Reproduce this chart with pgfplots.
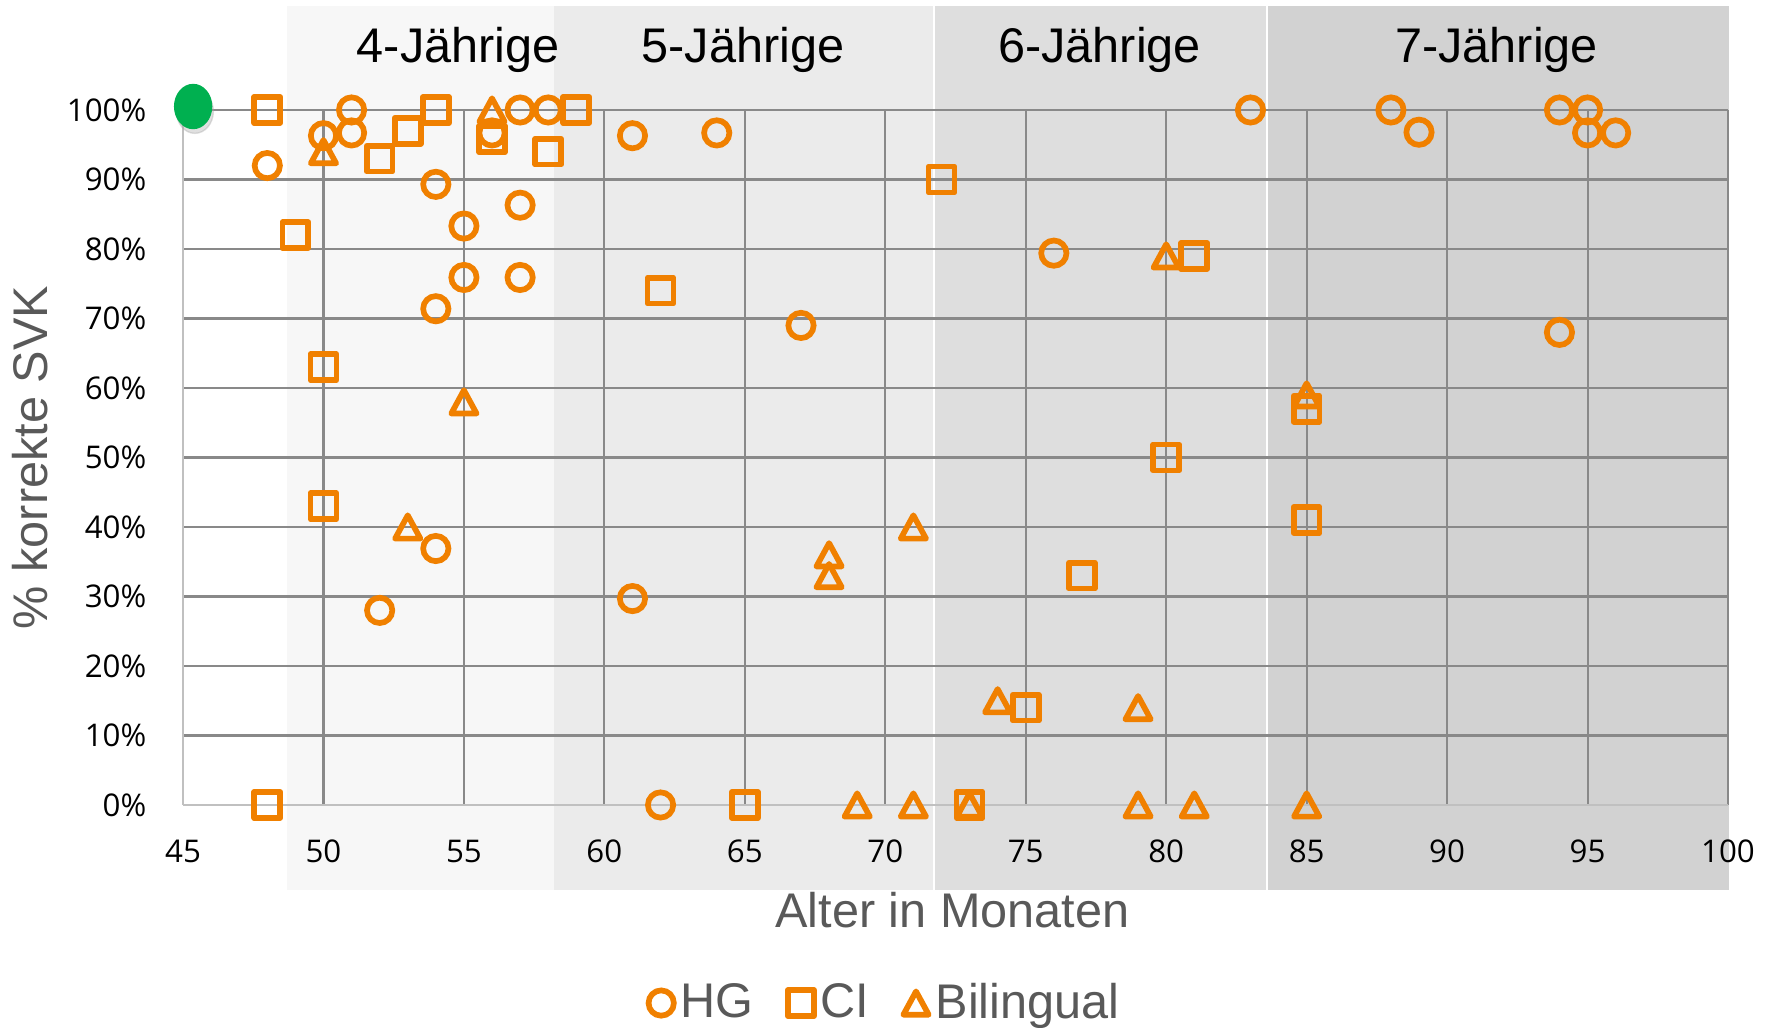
\documentclass[border=0pt]{standalone}
\usepackage{fontspec}
\setmainfont{Liberation Sans}
\newfontfamily\tickfont{Open Sans}
\usepackage{pgfplots}
\pgfplotsset{compat=1.18}
\definecolor{mkOrange}{RGB}{240,128,0}
\definecolor{dotGreen}{RGB}{0,176,80}
\definecolor{labelGrey}{RGB}{89,89,89}
\definecolor{gridGrey}{RGB}{137,137,137}
\definecolor{axisGrey}{RGB}{192,192,192}
\definecolor{bandFour}{RGB}{247,247,247}
\definecolor{bandFive}{RGB}{235,235,235}
\definecolor{bandSix}{RGB}{222,222,222}
\definecolor{bandSeven}{RGB}{210,210,210}

% Excel-like triangle, centred on its box
\pgfdeclareplotmark{xltri}{%
  \pgfpathmoveto{\pgfqpoint{0pt}{3.35pt}}%
  \pgfpathlineto{\pgfqpoint{3.64pt}{-3.35pt}}%
  \pgfpathlineto{\pgfqpoint{-3.64pt}{-3.35pt}}%
  \pgfpathclose
  \pgfusepathqstroke}

\begin{document}
\begin{tikzpicture}
\begin{axis}[
    set layers,
    clip=false,
    scale only axis,
    width=444.64pt, height=200.01pt,
    xmin=45, xmax=100, ymin=0, ymax=100,
    xtick={45,50,...,100},
    ytick={0,10,...,100},
    yticklabels={0\%,10\%,20\%,30\%,40\%,50\%,60\%,70\%,80\%,90\%,100\%},
    /pgf/number format/assume math mode=true,
    ticklabel style={font=\tickfont\fontsize{9}{11}\selectfont, text=black},
    xticklabel style={anchor=base, yshift=-16.7pt},
    yticklabel style={anchor=east, inner sep=0pt, xshift=-10.36pt},
    major tick length=0pt,
    xmajorgrids, ymajorgrids,
    grid style={draw=gridGrey, line width=0.6pt},
    axis x line*=bottom, axis y line*=left,
    axis line style={draw=axisGrey, line width=0.6pt, -},
    xlabel={Alter in Monaten},
    ylabel={\% korrekte SVK},
    label style={font=\fontsize{14}{16}\selectfont, text=labelGrey},
    xlabel style={at={(axis description cs:0.498,-0.177)}, anchor=base},
    ylabel style={at={(axis description cs:-0.0874,0.5)}, anchor=base},
    legend columns=3,
    legend style={at={(0.456,-0.285)}, anchor=center, draw=none, fill=none,
        font=\fontsize{14}{16}\selectfont, text=labelGrey,
        /tikz/every even column/.append style={column sep=7.8pt}},
    legend image code/.code={\draw[mark repeat=2,mark phase=2,#1]
        plot coordinates {(0cm,0cm) (0.17cm,0cm) (0.375cm,0cm)};},
]
\begin{pgfonlayer}{axis background}
\fill[bandFour]  (axis cs:48.7,-12.23) rectangle (axis cs:58.2,114.96);
\fill[bandFive]  (axis cs:58.2,-12.23) rectangle (axis cs:71.75,114.96);
\fill[bandSix]   (axis cs:71.75,-12.23) rectangle (axis cs:83.6,114.96);
\fill[bandSeven] (axis cs:83.6,-12.23) rectangle (axis cs:100.05,114.96);
\draw[white, line width=0.6pt] (axis cs:71.75,-12.23) -- (axis cs:71.75,114.96);
\draw[white, line width=0.6pt] (axis cs:83.6,-12.23) -- (axis cs:83.6,114.96);
\end{pgfonlayer}

\node[anchor=base, font=\fontsize{14}{16}\selectfont] at (axis cs:54.8,106.8) {4-Jährige};
\node[anchor=base, font=\fontsize{14}{16}\selectfont] at (axis cs:64.93,106.8) {5-Jährige};
\node[anchor=base, font=\fontsize{14}{16}\selectfont] at (axis cs:77.63,106.8) {6-Jährige};
\node[anchor=base, font=\fontsize{14}{16}\selectfont] at (axis cs:91.76,106.8) {7-Jährige};

% HG
\addplot[only marks, mark=o, mark size=3.64pt,
    mark options={draw=mkOrange, line width=1.64pt}] coordinates {
    (48,92) (50,96.3) (51,100) (51,96.7) (52,28) (54,89.3) (54,71.4)
    (54,36.9) (55,83.3) (55,75.9) (56,96.7) (57,100) (57,86.3) (57,75.9)
    (58,100) (61,96.3) (61,29.7) (62,0) (64,96.7) (67,69) (76,79.4)
    (83,100) (88,100) (89,96.8) (94,100) (94,68) (95,100) (95,96.7) (96,96.7)
};
\addlegendentry{HG}
% CI
\addplot[only marks, mark=square, mark size=3.73pt,
    mark options={draw=mkOrange, line width=1.64pt, line join=round}] coordinates {
    (48,100) (48,0) (49,82) (50,63) (50,43) (52,93) (53,97) (54,100)
    (56,95.8) (58,94) (59,100) (62,74) (65,0) (72,90) (73,0) (75,14)
    (77,33) (80,50) (81,79) (85,57) (85,41)
};
\addlegendentry{CI}
% Bilingual
\addplot[only marks, mark=xltri,
    mark options={draw=mkOrange, line width=1.64pt, line join=round}] coordinates {
    (50,94) (53,40) (55,58) (56,100) (68,36) (68,33) (69,0) (71,40) (71,0)
    (73,0) (74,15) (79,14) (79,0) (80,79) (81,0) (85,59) (85,0)
};
\addlegendentry{Bilingual}
% green dot with soft shadow
\addplot[only marks, mark=*, mark size=6.33pt, forget plot, color=gray!70,
    mark options={xscale=0.84, draw=gray!70, fill=gray!70, opacity=0.35,
    xshift=0.6pt, yshift=-1.4pt}] coordinates {(45.36,100.5)};
\addplot[only marks, mark=*, mark size=6.33pt, forget plot, color=dotGreen,
    mark options={xscale=0.84, draw=dotGreen, fill=dotGreen}] coordinates {(45.36,100.5)};
\end{axis}
\pgfresetboundingbox
\path[use as bounding box] (-52.67pt,-64.18pt) rectangle (457.59pt,231.67pt);
\end{tikzpicture}
\end{document}
